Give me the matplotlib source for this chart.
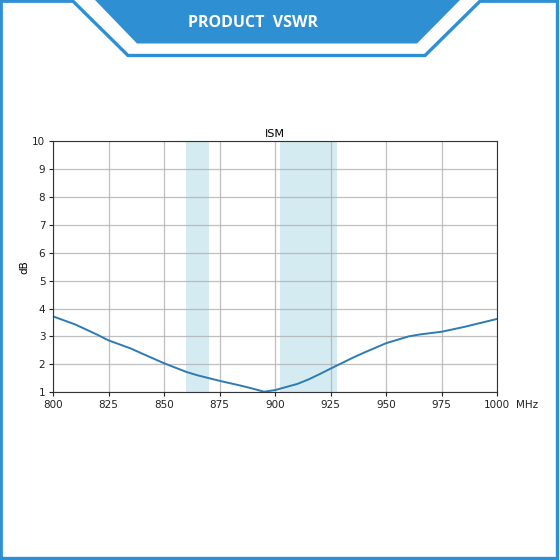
import matplotlib
matplotlib.use("Agg")
import matplotlib.pyplot as plt
from matplotlib.patches import Polygon

# ---- data ----
freq = [800, 810, 820, 825, 835, 840, 850, 860, 865, 870, 875, 885, 890, 895,
        900, 910, 915, 920, 925, 935, 940, 950, 960, 965, 975, 985, 1000]
vswr = [3.72, 3.43, 3.06, 2.86, 2.57, 2.39, 2.04, 1.73, 1.61, 1.51, 1.41, 1.23,
        1.13, 1.02, 1.08, 1.30, 1.46, 1.65, 1.85, 2.24, 2.42, 2.76, 3.00, 3.07,
        3.17, 3.34, 3.63]
bands = [(860, 870), (902, 928)]
xticks = [800, 825, 850, 875, 900, 925, 950, 975, 1000]
yticks = [1, 2, 3, 4, 5, 6, 7, 8, 9, 10]
title = "ISM"
banner_text = "PRODUCT  VSWR"

W = H = 560
BLUE = "#2f8fd3"

fig = plt.figure(figsize=(5.6, 5.6), dpi=100)
fig.patch.set_facecolor("white")

# ---- decorative frame (pixel coordinates) ----
bg = fig.add_axes([0, 0, 1, 1], zorder=0)
bg.set_xlim(0, W)
bg.set_ylim(H, 0)
bg.axis("off")
frame_x = [1.2, 1.2, 73, 128, 425, 480, 557.5, 557.5, 1.2]
frame_y = [558.5, 1.2, 1.2, 55.5, 55.5, 1.2, 1.2, 558.5, 558.5]
bg.plot(frame_x, frame_y, color=BLUE, lw=2.4, solid_joinstyle="miter")
bg.add_patch(Polygon([[95, 0], [460, 0], [417, 43.5], [137, 43.5]],
                     closed=True, facecolor=BLUE, edgecolor="none"))
bg.text(253, 23, banner_text, color="white", fontsize=11.5,
        fontweight="bold", ha="center", va="center", family="Open Sans")

# ---- chart ----
ax = fig.add_axes([53 / W, 1 - 392.3 / H, (497.3 - 53) / W, (392.3 - 141) / H], zorder=1)
for a, b in bands:
    ax.axvspan(a, b, color="#add8e6", alpha=0.5, lw=0)
ax.plot(freq, vswr, color="#2c7bb6", lw=1.4)
ax.set_xlim(800, 1000)
ax.set_ylim(1, 10)
ax.set_xticks(xticks)
ax.set_yticks(yticks)
ax.tick_params(labelsize=7.5, colors="#222222", length=3, width=0.8, pad=2.5)
ax.grid(True, color="#b0b0b0", lw=0.9, alpha=0.8)
ax.set_title(title, fontsize=8, pad=3)
ax.set_ylabel("dB", fontsize=7.5, labelpad=2)
for s in ax.spines.values():
    s.set_color("#333333")
    s.set_linewidth(0.8)
ax.annotate("MHz", xy=(1, 0), xycoords="axes fraction", xytext=(13.5, -5.5),
            textcoords="offset points", ha="left", va="top", fontsize=7.5,
            color="#222222")

fig.savefig("out.png", dpi=100)
